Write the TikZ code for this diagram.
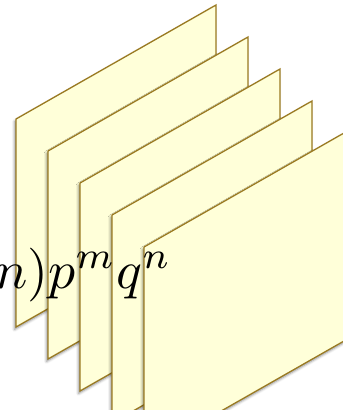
\documentclass[tikz,border=0pt]{standalone}
\usetikzlibrary{shadows.blur}
\definecolor{sheetFill}{HTML}{FFFFD9}
\definecolor{sheetEdge}{HTML}{9A7A22}

\begin{document}
\begin{tikzpicture}[x=1bp,y=-1bp,
    sheet/.style={draw=sheetEdge,line width=1.3bp,fill=sheetFill,
                  blur shadow={shadow xshift=-1.5bp,shadow yshift=-2.5bp,
                               shadow blur radius=2.5bp,shadow opacity=45}}]
  \useasboundingbox (0,0) rectangle (343,410);
  % stacked sheets, back to front
  \foreach \k in {0,...,4}
    \draw[sheet] ({16+32*\k},{119+32*\k}) -- ++(200,-114) -- ++(0,208)
                 -- ++(-200,114) -- cycle;
  \node[anchor=base west,inner sep=0pt]
    (term) at (-5,288) {\scalebox{5.4}{$n)p^m q^n$}};
\end{tikzpicture}
\end{document}
